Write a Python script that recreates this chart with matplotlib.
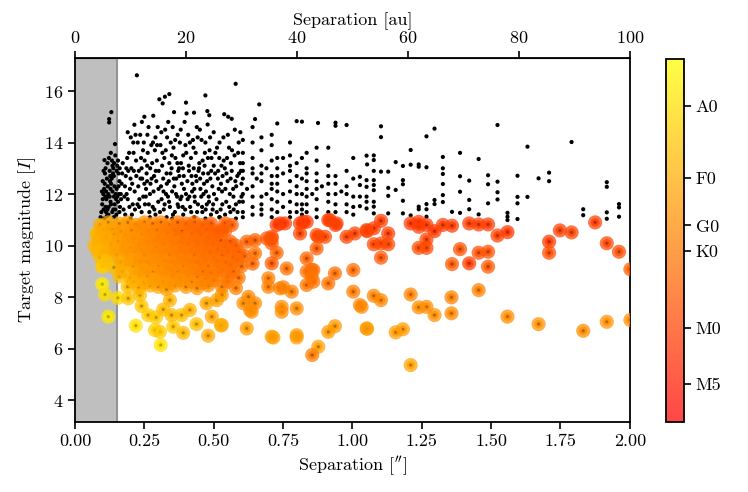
import numpy as np
import matplotlib
matplotlib.use("Agg")
import matplotlib.pyplot as plt
from matplotlib.colors import Normalize

plt.rcParams['font.family'] = 'serif'
plt.rcParams['font.serif'] = ['cmr10']
plt.rcParams['mathtext.fontset'] = 'cm'
plt.rcParams['axes.formatter.use_mathtext'] = True
plt.rcParams['font.size'] = 13

# ---------------- data: black dots (separation ["], magnitude I) ----------------
blk_sep = [
 0.095,0.10,0.105,0.11,0.115,0.12,0.12,0.125,0.13,0.13,0.135,0.14,0.14,0.145,0.145,0.15,0.15,0.155,0.155,0.16,
 0.10,0.11,0.125,0.135,0.105,0.115,0.14,0.16,0.165,0.17,0.106,0.144,0.123,0.123,0.131,
 0.175,0.18,0.185,0.19,0.195,0.20,0.205,0.21,0.215,0.22,0.214,0.223,0.19,0.225,
 0.23,0.235,0.24,0.245,0.25,0.255,0.26,0.265,0.27,0.275,0.28,0.282,0.285,0.29,0.295,0.30,0.304,0.316,0.324,0.34,0.26,0.24,0.29,
 0.31,0.315,0.32,0.325,0.33,0.335,0.34,0.345,0.35,0.355,0.357,0.36,0.365,0.37,0.375,0.38,0.385,0.39,0.395,0.40,0.400,0.402,0.33,0.37,0.39,
 0.41,0.415,0.42,0.425,0.429,0.43,0.435,0.44,0.445,0.45,0.455,0.46,0.465,0.470,0.47,0.475,0.477,0.48,0.484,0.485,0.49,0.495,0.50,0.50,
 0.51,0.515,0.52,0.525,0.53,0.535,0.538,0.54,0.545,0.55,0.552,0.555,0.56,0.565,0.565,0.57,0.575,0.579,0.58,0.585,0.59,0.595,0.60,0.60,
 0.605,0.605,0.605,0.605,0.605,0.64,0.64,0.64,0.64,0.64,0.649,0.664,
 0.672,0.672,0.672,0.672,0.672,0.672,0.709,0.709,0.709,0.709,0.709,0.729,0.729,0.729,0.729,
 0.775,0.775,0.775,0.775,0.775,0.799,0.799,0.799,0.799,0.818,0.818,0.818,0.818,0.818,
 0.835,0.835,0.835,0.835,0.871,0.871,0.871,0.871,0.876,0.913,0.913,0.913,0.913,
 0.939,0.939,0.939,0.939,0.939,0.979,0.979,0.979,0.979,1.003,1.003,1.003,1.003,
 1.103,1.103,1.051,1.077,1.077,1.053,1.077,1.103,1.129,1.156,1.182,1.210,1.210,1.239,1.239,1.267,1.296,1.267,
 1.326,1.326,1.326,1.326,1.326,1.326,1.388,1.388,1.388,1.388,1.455,1.421,1.421,1.421,1.455,1.489,1.489,1.489,
 1.523,1.523,1.523,1.523,1.559,1.595,1.595,1.595,1.595,1.631,1.631,1.671,1.709,1.709,1.790,1.832,1.832,
 1.917,1.917,1.917,1.917,1.961,1.961,1.961,
 1.027,1.027,1.027,1.027,1.051,1.051,1.051,1.051,1.051,1.077,1.077,1.077,1.077,1.077,1.077,
 1.129,1.129,1.129,1.156,1.182,1.182,1.182,1.182,1.210,1.239,1.239,1.267,1.267,1.267,1.296,1.296,1.359,1.559,1.559,
 0.098,0.102,0.108,0.112,0.118,0.122,0.128,0.132,0.138,0.142,0.148,0.152,0.158,0.162,0.168,0.172,0.112,0.128,0.138,0.118,
 0.178,0.183,0.188,0.198,0.203,0.208,0.212,0.218,0.228,0.232,0.238,0.242,0.248,0.252,0.258,0.262,0.268,0.272,0.278,0.283,
 0.288,0.293,0.298,0.302,0.308,0.312,0.318,0.322,0.328,0.332,0.338,0.342,0.348,0.352,0.358,0.362,0.368,0.372,0.378,0.382,
 0.388,0.392,0.398,0.405,0.408,0.412,0.418,0.422,0.428,0.432,0.438,0.442,0.448,0.452,0.458,0.462,0.468,0.472,0.478,0.482,
 0.488,0.492,0.498,0.505,0.512,0.518,0.522,0.528,0.532,0.542,0.548,0.558,0.562,0.572,0.578,0.588,0.592,0.598,
 0.605,0.605,0.64,0.64,0.672,0.672,0.709,0.709,0.729,0.729,0.729,0.75,0.75,0.75,0.775,0.775,0.799,0.799,0.818,0.835,
 0.835,0.871,0.871,0.913,0.913,0.939,0.939,0.979,0.979,1.003,
 0.092,0.097,0.103,0.107,0.113,0.117,0.121,0.126,0.129,0.134,0.137,0.141,0.146,0.149,0.153,0.157,0.161,0.166,0.103,0.117,
 0.127,0.143,0.157,0.109,0.133,
 0.181,0.186,0.192,0.196,0.201,0.206,0.211,0.216,0.221,0.226,0.231,0.236,0.241,0.246,0.251,0.256,0.261,0.266,0.271,0.276,
 0.281,0.286,0.291,0.296,0.301,0.306,0.311,0.314,0.319,0.323,0.327,0.331,0.336,0.339,0.344,0.349,0.353,0.356,0.361,0.364,
 0.369,0.373,0.376,0.381,0.384,0.389,0.393,0.397,0.401,0.406,0.411,0.414,0.419,0.423,0.427,0.431,0.436,0.439,0.443,0.447,
 0.451,0.456,0.459,0.463,0.467,0.471,0.476,0.479,0.483,0.487,0.491,0.496,0.501,0.506,0.511,0.516,0.521,0.526,0.531,0.536,
 0.541,0.546,0.551,0.556,0.561,0.566,0.571,0.576,0.581,0.586,0.591,0.596,0.20,0.27,0.35,0.43,0.47,0.52,0.58,0.25,
 0.605,0.605,0.62,0.64,0.64,0.655,0.672,0.69,0.69,0.709,0.709,0.729,0.75,0.775,0.775,0.799,0.818,0.835,0.835,0.855,
 0.871,0.871,0.89,0.913,0.96,
]
blk_mag = [
 11.3,11.8,12.2,11.5,12.6,11.2,12.0,12.9,11.6,12.4,13.1,11.9,12.7,11.4,13.5,12.2,12.9,11.7,13.3,12.5,
 12.5,13.0,11.9,12.1,11.05,11.15,11.1,11.3,12.0,12.8,13.32,13.94,14.91,14.78,15.18,
 11.4,12.3,13.0,11.8,13.6,12.6,11.2,14.0,12.1,13.3,14.69,16.61,14.4,11.6,
 12.9,14.3,11.3,13.7,12.4,11.9,13.1,14.6,12.0,13.9,11.5,15.04,12.7,14.2,13.3,11.7,15.68,15.52,15.78,15.88,12.5,13.0,11.2,
 12.3,13.6,11.4,14.5,12.8,11.9,13.2,14.0,12.1,13.8,15.18,11.3,12.6,14.3,13.0,11.8,12.4,13.5,14.8,12.0,15.55,15.13,11.1,11.6,11.2,
 13.1,11.5,12.7,14.1,15.16,12.2,13.6,11.3,12.9,14.5,11.9,13.3,12.4,15.83,14.0,11.6,15.22,12.8,15.06,13.7,11.2,12.3,13.1,14.4,
 11.8,12.6,13.4,11.4,12.1,14.2,15.10,13.0,11.7,12.5,15.00,13.8,11.3,14.92,12.9,12.2,13.5,16.28,11.6,12.7,14.0,13.2,11.9,12.4,
 11.3,12.0,12.9,13.6,14.1,11.5,12.3,12.8,13.4,14.6,14.91,15.48,
 11.2,11.9,12.5,13.1,13.7,14.2,11.4,12.2,12.7,13.3,13.9,11.7,12.4,13.0,14.74,
 11.3,12.1,12.9,13.5,14.0,11.6,12.3,13.2,14.83,11.2,12.0,12.6,13.4,14.81,
 11.9,12.5,13.0,13.6,11.4,12.2,12.8,13.3,14.76,11.7,12.4,13.1,13.8,
 11.3,12.0,12.7,14.77,14.65,11.6,12.3,12.9,14.68,11.2,11.9,12.6,13.4,
 14.63,14.21,13.49,13.50,13.32,13.15,12.90,12.87,12.87,13.24,13.09,13.71,13.14,13.15,13.06,14.24,14.54,13.04,
 13.44,13.00,12.78,12.39,11.96,11.69,13.60,12.69,12.09,11.27,13.36,12.52,11.77,11.41,11.21,12.73,12.38,11.64,
 14.68,12.48,12.07,11.79,11.27,12.71,11.89,11.64,11.03,13.84,11.89,12.61,12.83,12.50,14.02,11.41,11.18,
 12.46,12.28,11.29,11.04,11.61,11.48,11.12,
 12.67,12.35,11.90,11.53,12.54,12.28,11.90,11.70,11.44,12.54,12.35,12.15,11.70,11.51,11.25,
 12.24,11.93,11.25,12.16,12.54,12.38,11.74,11.25,11.17,11.51,11.41,11.61,11.41,11.12,11.77,11.61,11.31,11.12,10.99,
 11.6,12.0,12.8,11.3,12.3,13.4,11.7,12.6,13.0,12.3,11.8,13.1,12.0,11.5,12.4,13.2,12.1,12.2,11.4,11.9,
 11.9,12.7,13.4,12.2,13.0,11.6,12.9,14.3,12.3,11.8,13.4,12.6,14.0,11.6,12.8,13.6,11.3,12.4,13.2,12.1,
 13.7,12.5,14.6,12.9,13.9,11.8,12.6,13.4,12.0,14.2,12.5,11.5,13.0,14.6,12.3,13.4,11.9,12.9,14.0,13.2,
 11.5,12.7,13.9,12.5,14.3,11.9,13.4,12.1,13.0,11.7,12.5,14.2,13.2,12.2,11.5,12.8,13.6,12.1,14.7,11.9,
 12.6,13.4,11.6,12.8,13.8,12.2,11.1,13.1,12.7,12.2,13.4,12.0,13.2,11.4,12.5,13.6,11.7,12.9,
 11.7,12.6,11.9,13.0,11.6,12.8,11.8,12.4,11.3,12.7,13.4,12.0,12.8,11.5,11.7,12.5,11.3,12.0,11.6,11.3,
 12.2,11.8,12.5,11.3,12.0,11.6,12.4,11.3,12.0,11.5,
 11.1,12.1,11.4,12.4,11.8,13.2,11.5,12.5,13.6,11.3,12.8,13.2,12.0,11.2,11.9,12.8,13.0,11.8,12.9,11.4,
 12.7,11.6,12.3,11.9,13.3,
 11.2,12.0,12.9,11.5,14.2,12.4,13.6,11.4,12.7,14.0,11.5,12.6,14.8,11.9,13.3,12.2,14.3,11.6,13.0,12.6,
 14.0,11.4,12.9,13.9,12.2,11.3,14.4,13.1,12.1,11.6,13.7,12.4,14.8,11.7,12.8,13.5,11.2,12.6,14.1,12.0,
 13.2,11.5,12.7,14.5,11.9,13.0,12.2,11.4,13.6,11.8,12.9,14.0,11.3,12.4,13.8,11.9,12.7,14.6,11.6,13.0,
 12.6,14.1,11.3,12.0,13.1,11.4,12.5,13.4,11.7,14.2,12.9,11.4,12.0,13.6,11.3,12.9,14.0,12.4,11.6,13.3,
 11.2,12.8,14.3,11.5,12.6,13.7,11.9,14.5,12.3,11.3,12.8,14.4,11.05,11.1,11.05,11.1,11.05,11.1,11.05,15.0,
 11.1,13.2,12.2,11.2,14.0,12.6,11.4,12.0,13.0,11.1,14.3,12.1,13.4,11.1,13.1,12.7,11.4,11.6,12.8,12.0,
 11.1,13.8,12.3,12.7,12.1,
]

# ---------------- data: coloured targets (separation, magnitude, Teff [K]) ----------------
col_sep = [
 1.103,1.053,1.077,1.129,1.077,1.103,1.129,1.103,1.210,1.239,1.239,1.267,1.296,1.267,1.267,1.239,1.326,1.359,1.421,1.455,
 1.489,1.523,1.559,1.388,1.455,1.489,1.359,1.421,1.489,1.709,1.709,1.748,1.790,1.875,1.917,1.961,2.002,
 1.455,1.357,1.357,1.210,1.077,1.103,1.239,1.267,1.296,1.033,1.053,1.156,1.182,1.210,1.559,1.671,1.832,1.917,2.002,
 0.541,0.565,0.541,0.619,0.649,0.649,0.727,0.739,0.757,0.811,0.823,0.835,0.811,0.709,0.709,0.691,0.709,0.727,0.709,0.763,
 0.871,0.901,0.877,0.913,0.943,0.919,0.939,0.979,1.009,1.051,0.835,0.859,0.871,0.835,0.913,0.937,1.003,1.003,1.027,
 0.697,0.697,0.739,0.781,0.751,0.835,0.853,0.853,0.859,0.745,0.745,0.799,0.631,0.607,0.619,0.709,0.799,0.799,0.877,0.855,
 0.913,0.937,1.051,0.529,0.715,0.637,0.649,0.625,
 0.120,0.098,0.108,0.098,0.090,0.078,0.154,0.219,0.309,0.288,0.306,0.354,0.390,0.438,0.480,0.493,0.526,0.240,0.264,0.292,
 0.318,0.348,0.384,0.414,0.192,0.234,0.342,0.474,0.511,0.529,
 0.09,0.12,0.16,0.19,0.22,0.25,0.28,0.31,0.34,0.37,0.40,0.43,0.46,0.49,
 0.08,0.11,0.14,0.18,0.21,0.24,0.27,0.30,0.33,0.36,0.39,0.42,0.45,0.48,0.51,
 0.07,0.10,0.13,0.17,0.20,0.23,0.26,0.29,0.32,0.35,0.38,0.41,0.44,0.47,0.50,0.54,0.58,
 0.09,0.12,0.15,0.19,0.22,0.25,0.28,0.31,0.34,0.37,0.40,0.43,0.46,0.50,0.53,0.57,0.61,
 0.10,0.14,0.18,0.21,0.24,0.27,0.30,0.33,0.36,0.39,0.42,0.45,0.48,0.52,0.56,0.60,0.64,
 0.16,0.20,0.23,0.26,0.29,0.32,0.35,0.38,0.41,0.44,0.47,0.51,0.55,0.59,
 0.19,0.23,0.27,0.30,0.33,0.36,0.40,0.44,0.48,0.53,0.58,
 0.10,0.135,0.165,0.205,0.235,0.265,0.295,0.325,0.355,0.385,0.415,0.445,0.475,0.505,0.53,
 0.085,0.115,0.155,0.19,0.225,0.255,0.285,0.315,0.345,0.375,0.405,0.435,0.465,0.495,0.525,0.56,
 0.08,0.11,0.145,0.18,0.21,0.24,0.27,0.30,0.33,0.36,0.39,0.42,0.455,0.485,0.515,0.55,0.59,
 0.11,0.165,0.20,0.23,0.26,0.29,0.32,0.35,0.38,0.41,0.44,0.47,0.51,0.545,0.585,
 0.17,0.22,0.25,0.28,0.31,0.34,0.37,0.40,0.43,0.46,0.49,0.53,0.57,
 0.21,0.25,0.285,0.315,0.345,0.38,0.42,0.46,0.50,0.55,
]
col_mag = [
 10.96,10.56,10.67,10.47,10.05,10.08,10.05,9.53,10.86,10.92,10.73,10.80,10.56,10.24,9.91,9.91,10.80,10.77,10.86,10.82,
 10.82,10.39,10.52,9.86,9.72,9.76,9.28,9.31,9.18,10.15,9.72,10.59,10.51,10.90,10.09,9.76,9.08,
 8.27,7.99,7.37,8.10,8.05,7.88,7.60,7.62,7.30,7.62,6.77,6.63,6.75,5.36,7.24,6.95,6.69,7.04,7.11,
 10.86,10.80,10.57,10.15,10.21,9.70,10.80,10.86,10.86,10.86,10.92,10.92,10.47,10.28,10.09,10.28,10.34,9.72,9.31,9.11,
 10.41,10.34,10.34,10.99,10.86,10.99,10.80,10.34,10.47,10.60,9.50,9.05,9.89,8.47,8.53,8.92,9.05,8.21,7.69,
 8.73,8.40,8.34,8.21,8.38,8.99,9.05,8.79,8.60,7.62,7.43,7.56,7.50,7.76,6.78,6.46,6.52,6.43,6.07,5.75,
 6.65,6.87,6.78,6.91,6.43,7.43,7.76,8.01,
 7.24,8.50,8.10,9.18,9.89,10.47,7.97,6.89,6.14,6.72,6.65,6.85,6.61,6.95,6.50,7.24,6.90,7.65,7.30,7.21,
 7.52,7.30,7.30,7.50,7.95,8.08,7.88,7.76,7.88,8.08,
 10.8,10.9,10.85,10.9,10.8,10.9,10.85,10.9,10.8,10.9,10.85,10.9,10.8,10.85,
 10.4,10.35,10.45,10.4,10.3,10.45,10.4,10.35,10.45,10.4,10.3,10.45,10.4,10.3,10.45,
 10.0,9.95,10.05,10.0,9.9,10.05,10.0,9.95,10.05,10.0,9.9,10.05,10.0,9.95,10.05,9.95,10.0,
 9.55,9.6,9.65,9.6,9.5,9.65,9.6,9.55,9.65,9.6,9.5,9.65,9.6,9.55,9.65,9.55,9.6,
 9.2,9.15,9.25,9.2,9.1,9.25,9.2,9.15,9.25,9.2,9.1,9.25,9.2,9.15,9.25,9.2,9.3,
 8.8,8.75,8.85,8.8,8.7,8.85,8.8,8.75,8.85,8.8,8.7,8.85,8.8,8.75,
 8.4,8.35,8.45,8.4,8.3,8.45,8.4,8.35,8.45,8.4,8.35,
 10.6,10.65,10.55,10.6,10.7,10.55,10.6,10.65,10.6,10.55,10.7,10.6,10.65,10.55,10.6,
 10.2,10.25,10.15,10.2,10.25,10.15,10.2,10.25,10.2,10.15,10.25,10.2,10.15,10.25,10.2,10.15,
 9.8,9.75,9.85,9.8,9.75,9.85,9.8,9.75,9.85,9.8,9.75,9.85,9.8,9.75,9.85,9.8,9.75,
 9.4,9.35,9.45,9.4,9.35,9.45,9.4,9.35,9.45,9.4,9.35,9.45,9.4,9.35,9.45,
 9.0,8.95,9.05,9.0,8.95,9.05,9.0,8.95,9.05,9.0,8.95,9.05,9.0,
 8.6,8.55,8.65,8.6,8.55,8.65,8.6,8.55,8.65,8.6,
]
col_teff = [
 3750,3600,3750,3800,4000,4000,4000,4300,3700,3700,3700,3700,3600,3900,4000,4100,3750,3750,3750,3750,
 3750,3850,3600,4200,4200,4200,4400,3700,4400,3600,4100,3800,3850,3750,3950,4100,4500,
 5600,5600,5900,5700,5700,5800,6000,6000,6100,6000,6400,6500,6500,6800,6000,6200,6000,6200,6100,
 4600,4600,4700,4700,4600,5100,3700,3700,3700,3700,3700,3700,3900,4300,4300,4400,4200,4800,4400,5100,
 4000,4000,4000,3800,3800,3800,3800,3900,3900,3900,4700,4900,4500,5300,5200,5000,5000,5500,5800,
 5500,5600,5600,5600,5600,5100,5000,5200,5200,6000,6000,6000,6100,6100,6600,6600,6500,6500,6700,5400,
 6500,6500,6500,6800,6600,6100,6000,5900,
 10500,10500,9800,9000,8600,8200,9500,9800,10000,8800,8600,8600,7800,8000,7000,7000,7200,8400,8600,8600,
 8000,7800,8000,7500,8300,8000,7500,7000,6800,6600,
 7200,7000,6700,6400,6200,6000,5800,5600,5400,5200,5000,4900,4800,4600,
 7500,7200,6800,6500,6300,6200,6000,5800,5600,5400,5300,5200,5100,5000,4800,
 7800,7500,7100,6700,6500,6300,6200,6000,5800,5700,5500,5400,5300,5200,5000,4900,4800,
 8000,7600,7200,6800,6600,6400,6300,6100,5900,5800,5700,5500,5400,5300,5100,5000,4900,
 8600,8000,7400,7000,6700,6500,6400,6200,6100,5900,5800,5600,5500,5300,5200,5100,4900,
 7900,7400,7000,6800,6600,6500,6300,6200,6000,5900,5700,5600,5400,5300,
 8000,7600,7200,7000,6800,6600,6400,6200,6000,5800,5600,
 7000,6700,6400,6100,5900,5800,5600,5400,5200,5000,4900,4800,4700,4600,4500,
 7300,7000,6600,6300,6100,5900,5700,5500,5400,5300,5100,5000,4900,4800,4700,4600,
 7600,7200,6800,6400,6200,6000,5900,5700,5600,5500,5300,5200,5100,5000,4900,4800,4700,
 8000,7000,6600,6300,6100,6000,5900,5700,5600,5500,5300,5200,5100,5000,4900,
 7200,6700,6400,6200,6100,5900,5800,5700,5600,5400,5300,5200,5000,
 7300,6900,6600,6400,6200,6000,5900,5700,5500,5300,
]

spt_labels = ['A0', 'F0', 'G0', 'K0', 'M0', 'M5']
spt_teff = [9700, 7200, 5900, 5300, 3850, 3050]
teff_range = [2600, 11800]
au_ticks = [0, 20, 40, 60, 80, 100]
dist_pc = 50  # au per arcsec
iwa = 0.15

# ---------------- figure ----------------
fig = plt.figure(figsize=(7.48, 4.92), dpi=100)
ax = fig.add_axes([0.1003, 0.1423, 0.7417, 0.7397])
cax = fig.add_axes([0.8904, 0.1423, 0.0240, 0.7377])

ax.axvspan(0, iwa, facecolor=(0.75, 0.75, 0.75), edgecolor='none', zorder=0)
ax.axvline(iwa, color=(0.58, 0.58, 0.58), lw=1.5, zorder=0.5)

all_sep = np.array(blk_sep + col_sep)
all_mag = np.array(blk_mag + col_mag)
ax.scatter(all_sep, all_mag, s=9, c='black', edgecolors='none', zorder=2)

norm = Normalize(vmin=np.log10(teff_range[0]), vmax=np.log10(teff_range[1]))
sc = ax.scatter(col_sep, col_mag, c=np.log10(col_teff), cmap='autumn', norm=norm,
                s=38, linewidths=4.0, edgecolors='face', alpha=0.72, zorder=3)

ax.set_xlim(0, 2)
ax.set_ylim(3.15, 17.28)
ax.set_xticks(np.arange(0, 2.01, 0.25))
ax.set_xticklabels([f"{v:.2f}" for v in np.arange(0, 2.01, 0.25)])
ax.set_yticks([4, 6, 8, 10, 12, 14, 16])
ax.set_xlabel(r"Separation [$''$]")
ax.set_ylabel(r"Target magnitude [$I$]")
ax.tick_params(direction='out', length=5, width=1.2)
for sp in ax.spines.values():
    sp.set_linewidth(1.3)

sec = ax.secondary_xaxis('top', functions=(lambda x: x * dist_pc, lambda x: x / dist_pc))
sec.set_xticks(au_ticks)
sec.set_xlabel("Separation [au]")
sec.tick_params(direction='out', length=5, width=1.2)

cb = fig.colorbar(sc, cax=cax)
cb.set_ticks(np.log10(spt_teff))
cb.set_ticklabels(spt_labels)
cb.ax.minorticks_off()
cb.ax.tick_params(direction='out', length=5, width=1.2)
cb.outline.set_linewidth(1.3)

fig.savefig("out.png", dpi=100)
